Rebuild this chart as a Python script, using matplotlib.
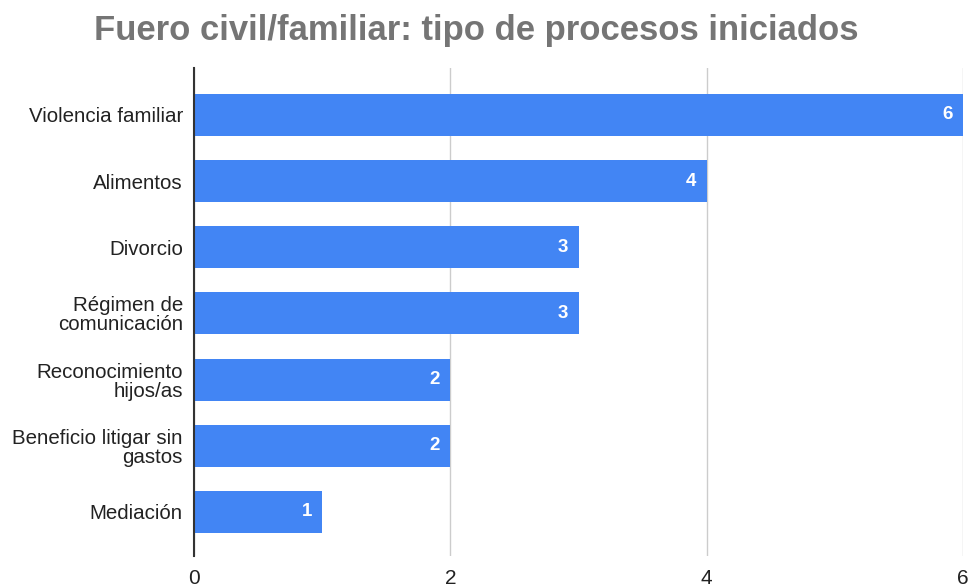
import matplotlib
matplotlib.use("Agg")
from matplotlib import pyplot as plt

categories = [
    "Violencia familiar",
    "Alimentos",
    "Divorcio",
    "Régimen de\ncomunicación",
    "Reconocimiento\nhijos/as",
    "Beneficio litigar sin\ngastos",
    "Mediación",
]
counts = [6, 4, 3, 3, 2, 2, 1]
x_ticks = [0, 2, 4, 6]

BAR_COLOR = "#4285f4"
plt.rcParams["font.family"] = ["Liberation Sans", "DejaVu Sans"]

fig = plt.figure(figsize=(9.73, 5.84), dpi=100)
ax = fig.add_axes([194 / 973, 1 - 556 / 584, (963 - 194) / 973, (556 - 68) / 584])

positions = list(range(len(categories)))
ax.barh(positions, counts, height=0.635, color=BAR_COLOR, zorder=3)
for pos, val in zip(positions, counts):
    ax.text(val - 0.08, pos, str(val), ha="right", va="center",
            color="white", fontsize=13.5, fontweight="bold", zorder=4)

ax.set_ylim(6.665, -0.71)
ax.set_xlim(0, 6)
ax.set_yticks(positions)
ax.set_yticklabels(categories, fontsize=14.8, color="#222222", linespacing=1.0)
ax.set_xticks(x_ticks)
ax.set_xticklabels([str(t) for t in x_ticks], fontsize=15, color="#222222")
ax.tick_params(axis="y", length=0, pad=8)
ax.tick_params(axis="x", length=0, pad=9)
ax.grid(axis="x", color="#cccccc", linewidth=1, zorder=0)
for side in ("top", "right", "bottom"):
    ax.spines[side].set_visible(False)
ax.spines["left"].set_color("#333333")
ax.spines["left"].set_linewidth(1.5)
ax.spines["left"].set_zorder(5)

fig.text(0.4897, 0.948, "Fuero civil/familiar: tipo de procesos iniciados",
         ha="center", va="center", fontsize=24.9, fontweight="bold", color="#757575")

fig.savefig("out.png", dpi=100)
